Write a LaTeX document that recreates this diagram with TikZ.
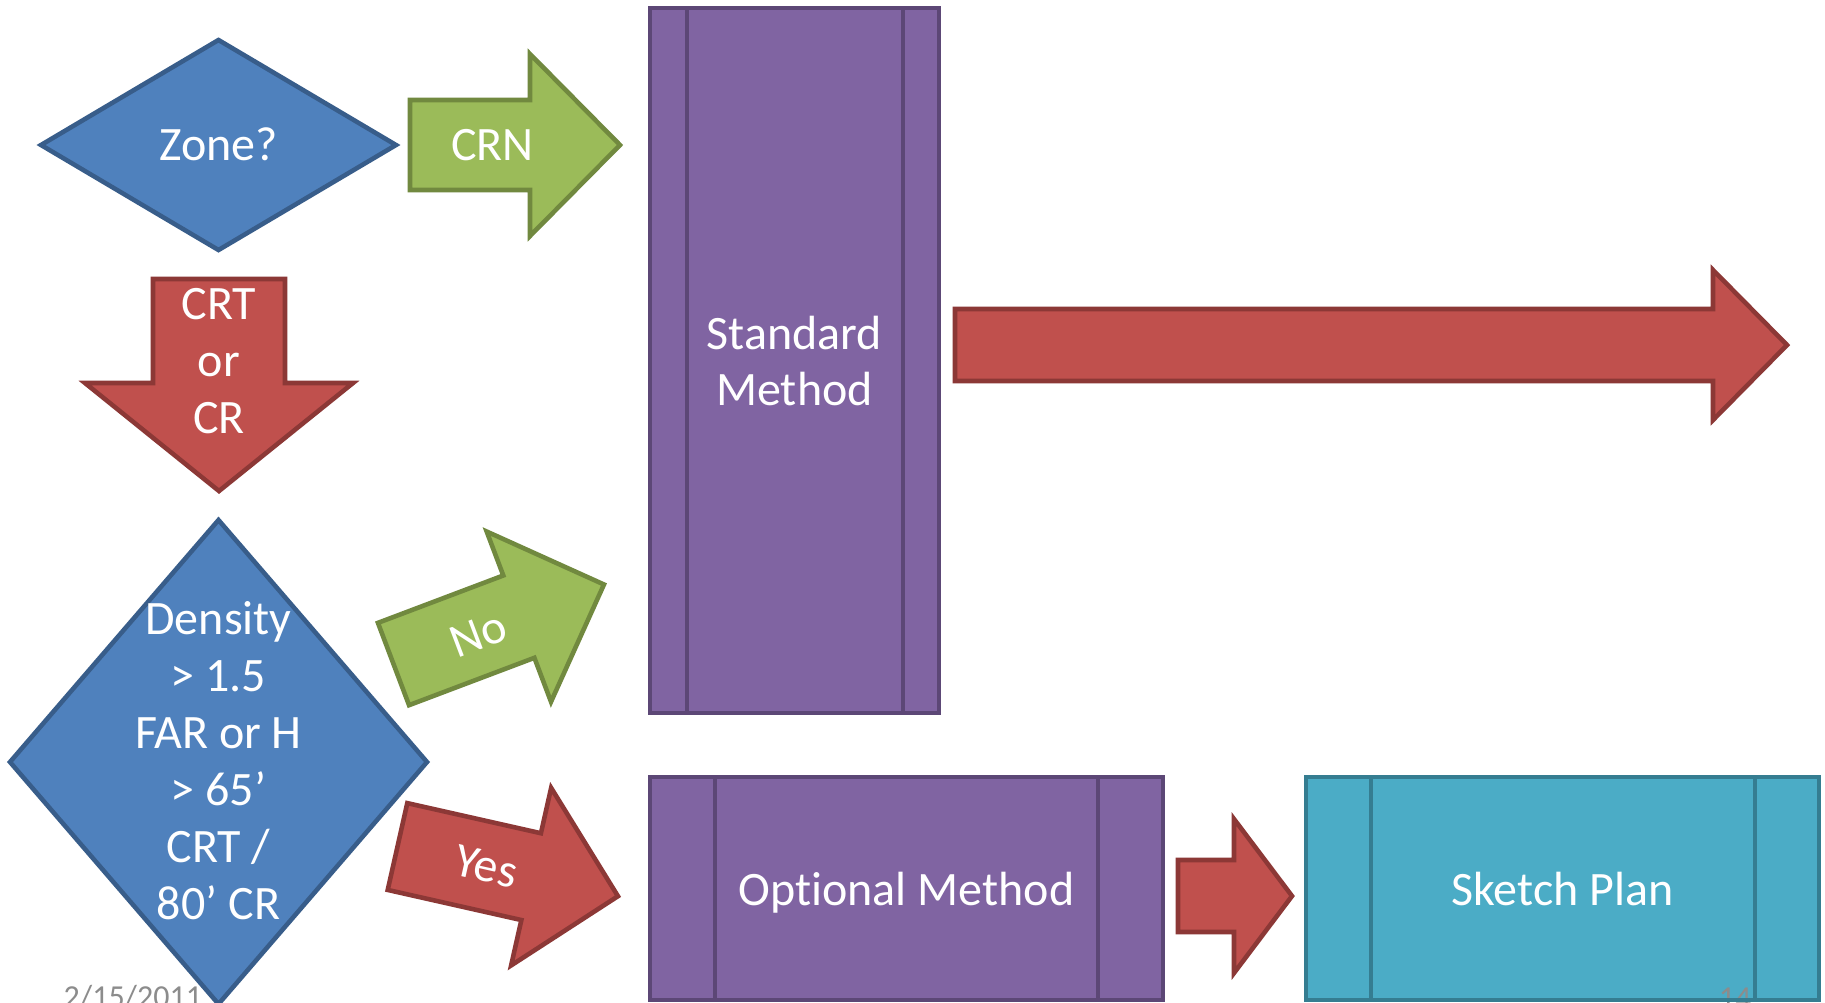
\documentclass[tikz,border=0pt]{standalone}
\usepackage{fontspec}
\setmainfont{Carlito}[Ligatures={NoCommon}]
\definecolor{bfill}{HTML}{4F81BD}
\definecolor{bline}{HTML}{385D8A}
\definecolor{gfill}{HTML}{9BBB59}
\definecolor{gline}{HTML}{71893F}
\definecolor{rfill}{HTML}{C0504D}
\definecolor{rline}{HTML}{8C3836}
\definecolor{pfill}{HTML}{8064A2}
\definecolor{pline}{HTML}{5C4776}
\definecolor{afill}{HTML}{4BACC6}
\definecolor{aline}{HTML}{357D91}
\definecolor{foot}{HTML}{8C8C8C}
\tikzset{
  shp/.style={line width=1.3pt, line join=miter, miter limit=20},
  blueshape/.style={shp, fill=bfill, draw=bline},
  greenshape/.style={shp, fill=gfill, draw=gline},
  redshape/.style={shp, fill=rfill, draw=rline},
  purpleshape/.style={shp, fill=pfill, draw=pline},
  aquashape/.style={shp, fill=afill, draw=aline},
  lbl/.style={text=white, font=\fontsize{13.65pt}{16.2pt}\selectfont, align=center, inner sep=0pt},
  footlbl/.style={text=foot, font=\fontsize{9.1pt}{10pt}\selectfont, inner sep=0pt},
}
\begin{document}
\begin{tikzpicture}[x=0.01cm, y=-0.01cm]
\useasboundingbox (0,0) rectangle (1825,1002);
\clip (0,0) rectangle (1825,1002);
\fill[white] (0,0) rectangle (1825,1002);

% footer date (behind shapes)
\node[footlbl, anchor=base west] (date) at (63,1007) {2/15/2011};

% Zone diamond
\draw[blueshape] (41,145) -- (218.5,40) -- (396,145) -- (218.5,250) -- cycle;
\node[lbl, anchor=base] (zone) at (218.5,160) {Zone?};

% CRN arrow
\draw[greenshape] (410,100) -- (530,100) -- (530,54) -- (620,145) -- (530,236) -- (530,190) -- (410,190) -- cycle;
\node[lbl, anchor=base] (crn) at (492.5,160) {CRN};

% CRT or CR arrow (down)
\draw[redshape] (153,279) -- (285,279) -- (285,383) -- (353,383) -- (219,491) -- (85,383) -- (153,383) -- cycle;
\node[lbl] (crt) at (219,361) {CRT\\or\\CR};

% Density diamond
\draw[blueshape] (10,762) -- (218.5,520) -- (427,762) -- (218.5,1004) -- cycle;
\node[lbl] (density) at (218.5,761) {Density\\> 1.5\\FAR or H\\> 65’\\CRT /\\80’ CR};

% No arrow
\begin{scope}[shift={(393.5,664)}, rotate=20.7]
  \draw[greenshape] (0,-44) -- (134,-44) -- (134,-91) -- (225,0) -- (134,91) -- (134,44) -- (0,44) -- cycle;
  \node[lbl, rotate=20.7] (no) at (90,2) {No};
\end{scope}

% Yes arrow
\begin{scope}[shift={(397.5,846.5)}, rotate=-12.7]
  \draw[redshape] (0,-44.5) -- (137,-44.5) -- (137,-91) -- (226,0) -- (137,91) -- (137,44.5) -- (0,44.5) -- cycle;
  \node[lbl, rotate=-12.7] (yes) at (91,0) {Yes};
\end{scope}

% Standard Method box
\draw[purpleshape] (650,8) rectangle (939,713);
\draw[shp, draw=pline] (687,8) -- (687,713) (903,8) -- (903,713);
\node[lbl] (std) at (794.5,361) {Standard\\Method};

% big red arrow
\draw[redshape] (955,309) -- (1713,309) -- (1713,270) -- (1787,345) -- (1713,420) -- (1713,381) -- (955,381) -- cycle;

% Optional Method box
\draw[purpleshape] (650,777) rectangle (1163,1000);
\draw[shp, draw=pline] (715,777) -- (715,1000) (1098,777) -- (1098,1000);
\node[lbl, anchor=base] (opt) at (906.5,905) {Optional Method};

% small red arrow
\draw[redshape] (1178,860) -- (1234,860) -- (1234,819) -- (1292,896) -- (1234,973) -- (1234,932) -- (1178,932) -- cycle;

% Sketch Plan box
\draw[aquashape] (1306,777) rectangle (1819,1000);
\draw[shp, draw=aline] (1371,777) -- (1371,1000) (1755,777) -- (1755,1000);
\node[lbl, anchor=base] (sketch) at (1562.5,905) {Sketch Plan};

% page number
\node[footlbl, anchor=base] (pagenum) at (1735,1008) {14};
\draw[shp, draw=aline] (1306,1000) -- (1819,1000);
\end{tikzpicture}
\end{document}
